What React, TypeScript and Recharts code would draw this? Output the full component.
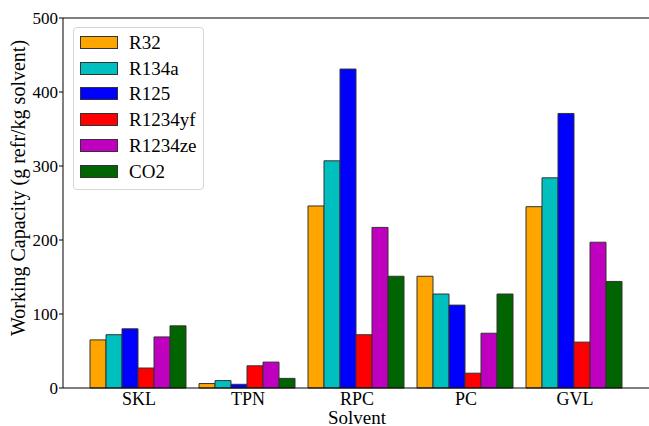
import { Bar, BarChart, ReferenceLine, XAxis, YAxis } from "recharts";

const FONT = "'Liberation Serif', 'Times New Roman', serif";

const solvents = ["SKL", "TPN", "RPC", "PC", "GVL"];
const r32 = [65, 6, 246, 151, 245];
const r134a = [72, 10, 307, 127, 284];
const r125 = [80, 5, 431, 112, 371];
const r1234yf = [27, 30, 72, 20, 62];
const r1234ze = [69, 35, 217, 74, 197];
const co2 = [84, 13, 151, 127, 144];
const yTicks = [0, 100, 200, 300, 400, 500];

const SERIES = [
  { key: "R32", values: r32, color: "#FFA500" },
  { key: "R134a", values: r134a, color: "#00BFBF" },
  { key: "R125", values: r125, color: "#0000FF" },
  { key: "R1234yf", values: r1234yf, color: "#FF0000" },
  { key: "R1234ze", values: r1234ze, color: "#BF00BF" },
  { key: "CO2", values: co2, color: "#006400" },
];

const data = solvents.map((name, i) => {
  const row: Record<string, string | number> = { name };
  SERIES.forEach((s) => {
    row[s.key] = s.values[i];
  });
  return row;
});

// legend drawn as an overlay so it doesn't shrink the plot area
function LegendBox() {
  return (
    <div
      style={{
        position: "absolute",
        left: 73,
        top: 27,
        width: 131,
        height: 163,
        border: "1px solid #d6d6d6",
        borderRadius: 4,
        background: "rgba(255,255,255,0.85)",
        boxSizing: "border-box",
        fontFamily: FONT,
        fontSize: 19,
        color: "#000",
      }}
    >
      {SERIES.map((s, i) => (
        <div
          key={s.key}
          style={{ position: "absolute", left: 6, top: 8 + i * 25.7, height: 13, display: "flex", alignItems: "center" }}
        >
          <span
            style={{
              display: "inline-block",
              width: 38,
              height: 13,
              background: s.color,
              border: "1px solid #333",
              boxSizing: "border-box",
            }}
          />
          <span style={{ marginLeft: 11, lineHeight: "13px", whiteSpace: "nowrap" }}>{s.key}</span>
        </div>
      ))}
    </div>
  );
}

function YLabel() {
  return (
    <text
      x={18}
      y={188}
      transform="rotate(-90 18 188)"
      textAnchor="middle"
      dominantBaseline="central"
      fontFamily={FONT}
      fontSize={20}
      fill="#000"
    >
      Working Capacity (g refr/kg solvent)
    </text>
  );
}

export default function App() {
  return (
    <div style={{ position: "absolute", left: 0, top: 0, width: 649, height: 426, overflow: "hidden", background: "#fff" }}>
      <BarChart
        width={660}
        height={426}
        data={data}
        margin={{ top: 18, right: 9, bottom: 0, left: 0 }}
        barCategoryGap={5.5}
        barGap={0}
      >
        <XAxis
          dataKey="name"
          height={38}
          padding={{ left: 21.5, right: 21.5 }}
          tickLine={false}
          tickSize={2}
          tickMargin={2}
          axisLine={{ stroke: "#000", strokeWidth: 1 }}
          tick={{ fontSize: 18, fill: "#000", fontFamily: FONT }}
          label={{ value: "Solvent", position: "insideBottom", offset: 2, fontSize: 19, fill: "#000", fontFamily: FONT }}
        />
        <YAxis
          width={63}
          domain={[0, 500]}
          ticks={yTicks}
          interval={0}
          tickSize={4}
          tickMargin={1}
          axisLine={{ stroke: "#000", strokeWidth: 1 }}
          tickLine={{ stroke: "#000" }}
          tick={{ fontSize: 17, fill: "#000", fontFamily: FONT }}
          label={<YLabel />}
        />
        <ReferenceLine y={500} stroke="#000" strokeWidth={1} ifOverflow="extendDomain" />
        {SERIES.map((s) => (
          <Bar
            key={s.key}
            dataKey={s.key}
            fill={s.color}
            stroke="#333"
            strokeWidth={1}
            isAnimationActive={false}
          />
        ))}
      </BarChart>
      <LegendBox />
    </div>
  );
}
